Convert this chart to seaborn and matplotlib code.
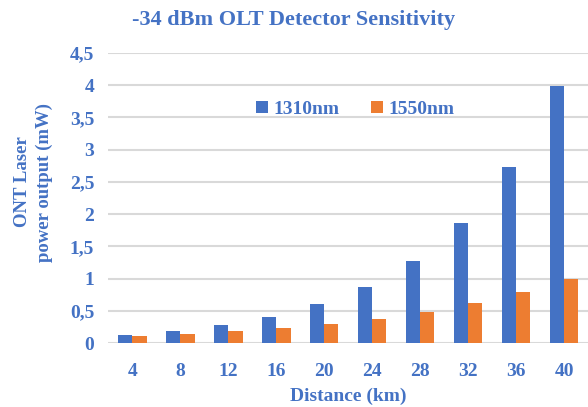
import matplotlib.pyplot as plt
import seaborn as sns
import pandas as pd

distance = [4, 8, 12, 16, 20, 24, 28, 32, 36, 40]
power_1310 = [0.13, 0.19, 0.28, 0.41, 0.60, 0.87, 1.27, 1.87, 2.73, 3.98]
power_1550 = [0.11, 0.14, 0.19, 0.24, 0.30, 0.38, 0.49, 0.62, 0.79, 1.00]
series = ["1310nm", "1550nm"]
y_ticks = [0, 0.5, 1, 1.5, 2, 2.5, 3, 3.5, 4, 4.5]

blue = "#4472C4"
orange = "#ED7D31"
txt = "#4472C4"

df = pd.DataFrame({
    "Distance": [str(d) for d in distance] * 2,
    "Power": power_1310 + power_1550,
    "Series": [series[0]] * len(distance) + [series[1]] * len(distance),
})

sns.set_style("white")
plt.rcParams["font.family"] = ["Liberation Serif", "DejaVu Serif"]
plt.rcParams["font.weight"] = "bold"

fig = plt.figure(figsize=(5.88, 4.07), dpi=100)
ax = fig.add_axes([0.184, 0.157, 0.816, 0.713])

sns.barplot(data=df, x="Distance", y="Power", hue="Series",
            palette=[blue, orange], saturation=1, width=0.6, linewidth=0,
            ax=ax, zorder=3)

ax.set_ylim(0, 4.5)
ax.set_yticks(y_ticks)
ax.set_yticklabels([f"{t:g}".replace(".", ",") for t in y_ticks])
ax.grid(axis="y", color="#D9D9D9", lw=1.5, zorder=0)
for s in ax.spines.values():
    s.set_visible(False)
ax.tick_params(axis="both", length=0, labelsize=14, colors=txt)
ax.tick_params(axis="x", pad=14)
ax.tick_params(axis="y", pad=10)
for lab in ax.get_xticklabels() + ax.get_yticklabels():
    lab.set_fontweight("bold")

ax.set_xlabel("Distance (km)", fontsize=14, color=txt, fontweight="bold", labelpad=6)
ax.set_ylabel("ONT Laser\npower output (mW)", fontsize=13.5, color=txt,
              fontweight="bold", linespacing=1.35)
ax.yaxis.set_label_coords(-0.115, 0.555)
fig.suptitle("-34 dBm OLT Detector Sensitivity", x=0.5, y=0.975,
             fontsize=16, color=txt, fontweight="bold")

leg = ax.legend(loc="upper center", bbox_to_anchor=(0.515, 0.895), ncol=2,
                frameon=False, fontsize=14, handlelength=0.6, handleheight=0.6,
                columnspacing=1.6, handletextpad=0.3)
for t in leg.get_texts():
    t.set_color(txt)
    t.set_fontweight("bold")

fig.savefig("out.png", dpi=100)
